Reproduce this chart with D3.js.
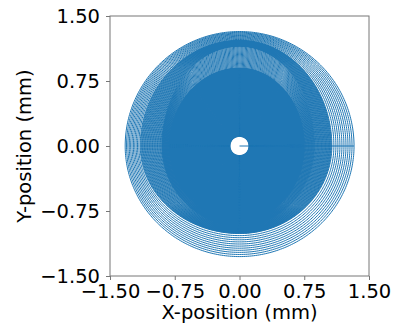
<!DOCTYPE html>
<html>
<head>
<meta charset="utf-8">
<script src="https://cdn.jsdelivr.net/npm/d3@7"></script>
<style>
  body { margin: 0; background: #fff; }
  text { font-family: "DejaVu Sans", sans-serif; }
</style>
</head>
<body>
<div id="chart"></div>
<script>
// key rings of the scan spiral (mm from the centre)
const ringNames  = ['hole', 'solid edge', 'light band', 'dense band', 'outer edge'];
const ringTop    = [0.11, 0.90, 1.15, 1.22, 1.33];
const ringRight  = [0.11, 0.75, 0.87, 1.07, 1.35];
const ringBottom = [0.11, 0.86, 0.92, 1.01, 1.30];
const ringLeft   = [0.11, 0.81, 0.90, 1.15, 1.34];
// number of turns between one key ring and the next
const turnsBetween = [300, 24, 30, 12];

const tickValues = [-1.5, -0.75, 0, 0.75, 1.5];
const xLabel = 'X-position (mm)';
const yLabel = 'Y-position (mm)';

const width = 398, height = 324;
const margin = {top: 16, right: 29, bottom: 48, left: 110};

const svg = d3.select('#chart')
  .append('svg')
  .attr('width', width)
  .attr('height', height);

const x = d3.scaleLinear().domain([-1.5, 1.5]).range([margin.left, width - margin.right]);
const y = d3.scaleLinear().domain([-1.5, 1.5]).range([height - margin.bottom, margin.top]);

// build the path: each turn is a closed ring that starts on the +x axis,
// the step to the next ring happens along the +x axis
const pts = [[0, 0]];
const steps = 360;
turnsBetween.forEach((n, b) => {
  for (let k = 0; k < n; k++) {
    const f = k / n;
    const top = ringTop[b] + (ringTop[b + 1] - ringTop[b]) * f;
    const right = ringRight[b] + (ringRight[b + 1] - ringRight[b]) * f;
    const bottom = ringBottom[b] + (ringBottom[b + 1] - ringBottom[b]) * f;
    const left = ringLeft[b] + (ringLeft[b + 1] - ringLeft[b]) * f;
    for (let s = 0; s <= steps; s++) {
      const a = s / steps * 2 * Math.PI;
      const c = Math.cos(a), sn = Math.sin(a);
      pts.push([c * (c >= 0 ? right : left), sn * (sn >= 0 ? top : bottom)]);
    }
  }
});

const clipId = 'plot-clip';
svg.append('defs').append('clipPath').attr('id', clipId)
  .append('rect')
  .attr('x', margin.left).attr('y', margin.top)
  .attr('width', x(1.5) - x(-1.5)).attr('height', y(-1.5) - y(1.5));

const line = d3.line()
  .x(d => x(d[0]))
  .y(d => y(d[1]));

svg.append('path')
  .datum(pts)
  .attr('clip-path', 'url(#' + clipId + ')')
  .attr('fill', 'none')
  .attr('stroke', '#1f77b4')
  .attr('stroke-width', 1)
  .attr('d', line);

// axes
const fmt = d3.format('.2f');
const xAxis = svg.append('g')
  .attr('transform', 'translate(0,' + y(-1.5) + ')')
  .call(d3.axisBottom(x).tickValues(tickValues).tickFormat(fmt).tickSize(4).tickPadding(4));
const yAxis = svg.append('g')
  .attr('transform', 'translate(' + x(-1.5) + ',0)')
  .call(d3.axisLeft(y).tickValues(tickValues).tickFormat(fmt).tickSize(4).tickPadding(6));

[xAxis, yAxis].forEach(g => {
  g.select('.domain').remove();
  g.selectAll('.tick line').attr('stroke', '#777');
  g.selectAll('.tick text')
    .attr('fill', '#000')
    .style('font-size', '19.5px');
});

// frame
svg.append('rect')
  .attr('x', x(-1.5)).attr('y', y(1.5))
  .attr('width', x(1.5) - x(-1.5)).attr('height', y(-1.5) - y(1.5))
  .attr('fill', 'none')
  .attr('stroke', '#777')
  .attr('stroke-width', 1);

svg.append('text')
  .attr('x', (x(-1.5) + x(1.5)) / 2)
  .attr('y', 319)
  .attr('text-anchor', 'middle')
  .style('font-size', '19.5px')
  .text(xLabel);

svg.append('text')
  .attr('transform', 'translate(31,' + y(0) + ') rotate(-90)')
  .attr('text-anchor', 'middle')
  .style('font-size', '19.5px')
  .text(yLabel);
</script>
</body>
</html>
